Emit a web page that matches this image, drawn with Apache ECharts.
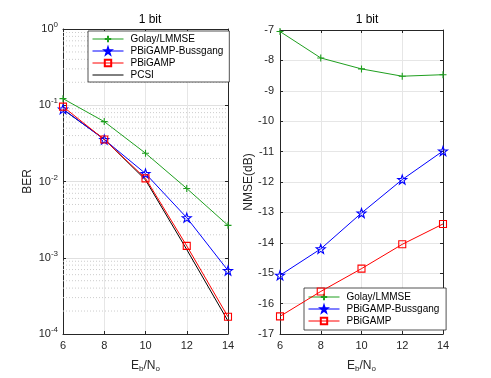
<!DOCTYPE html>
<html><head><meta charset="utf-8">
<script src="https://cdn.jsdelivr.net/npm/echarts@6/dist/echarts.min.js"></script>
<style>html,body{margin:0;padding:0;background:#fff}#c{width:491px;height:378px}</style>
</head><body><div id="c"></div>
<script>
const ebno = [6, 8, 10, 12, 14];
const berGolay = [0.122, 0.061, 0.0235, 0.0081, 0.00266];
const berBussgang = [0.089, 0.0355, 0.0127, 0.00335, 0.00068];
const berPBiGAMP = [0.096, 0.0355, 0.011, 0.00143, 0.000168];
const berPCSI = [0.088, 0.036, 0.0105, 0.00128, 0.000148];
const nmseGolay = [-7.05, -7.92, -8.28, -8.52, -8.47];
const nmseBussgang = [-15.07, -14.2, -13.02, -11.92, -10.98];
const nmsePBiGAMP = [-16.42, -15.6, -14.85, -14.05, -13.38];
const names = ['Golay/LMMSE', 'PBiGAMP-Bussgang', 'PBiGAMP', 'PCSI'];
const leftTitle = '1 bit', rightTitle = '1 bit';

const FONT = 'Liberation Sans';
const AX = '#262626';
const GREEN = '#1f9f1f', BLUE = '#0000ff', RED = '#ff0000', BLACK = '#000000';
const plus = 'path://M0,-10L0,10M-10,0L10,0';
const star = 'path://M0,-10L2.35,-3.24L9.51,-3.09L3.8,1.24L5.88,8.09L0,4L-5.88,8.09L-3.8,1.24L-9.51,-3.09L-2.35,-3.24Z';

const minorVals = [];
for (let e = -4; e < 0; e++) for (let k = 2; k <= 9; k++) minorVals.push(k * Math.pow(10, e));

const pair = (ys) => ebno.map((x, i) => [x, ys[i]]);

function mkSeries(name, ys, color, sym, size, xi, yi, extra) {
  const s = {
    name, type: 'line', xAxisIndex: xi, yAxisIndex: yi, data: pair(ys),
    symbol: sym || 'none', symbolSize: size || 0, showAllSymbol: true,
    lineStyle: {color, width: 1}, itemStyle: {color: 'rgba(0,0,0,0)', borderColor: color, borderWidth: 1.1},
    emphasis: {disabled: true}, animation: false, z: 5
  };
  return Object.assign(s, extra || {});
}
const minorSeries = minorVals.map(v => ({
  type: 'line', xAxisIndex: 0, yAxisIndex: 0, silent: true, symbol: 'none', z: 1,
  data: [[ebno[0], v], [ebno[ebno.length - 1], v]],
  lineStyle: {color: '#cccccc', type: [1, 2], width: 1}, emphasis: {disabled: true}, animation: false
}));

const grids = [
  {left: 63, right: 263, top: 29, bottom: 43},
  {left: 280, right: 48, top: 30, bottom: 43}
];
function xAx(gi, pos, labels) {
  return {
    type: 'value', gridIndex: gi, position: pos, min: 6, max: 14, interval: 2,
    axisLine: {show: true, onZero: false, lineStyle: {color: AX, width: 1}},
    axisTick: {show: true, inside: true, length: 3, lineStyle: {color: AX}},
    axisLabel: {show: labels, color: AX, fontFamily: FONT, fontSize: 11, margin: 6},
    splitLine: {show: labels, lineStyle: {color: '#e6e6e6', width: 1}},
    name: labels ? '{a|E}{s|b}{a|/N}{s|o}' : '', nameLocation: 'middle', nameGap: 24,
    nameTextStyle: {rich: {a: {fontFamily: FONT, fontSize: 12, color: AX}, s: {fontFamily: FONT, fontSize: 8, color: AX, padding: [7, 0, 0, 0]}}}
  };
}
const supFmt = (v) => '{b|10}{e|' + Math.round(Math.log10(v)) + '}';
const legendBase = {
  orient: 'vertical', itemGap: 2, itemWidth: 31, itemHeight: 8,
  backgroundColor: '#fff', borderColor: AX, borderWidth: 0.8, borderRadius: 0,
  lineStyle: {width: 1}, textStyle: {fontFamily: FONT, fontSize: 10, color: '#000', padding: [0, 0, 0, 2]}, selectedMode: false
};

const option = {
  animation: false,
  backgroundColor: '#fff',
  title: [
    {text: leftTitle, left: 145, top: 9, textAlign: 'center', textStyle: {fontFamily: FONT, fontSize: 12, fontWeight: 'normal', color: '#000'}},
    {text: rightTitle, left: 362, top: 9, textAlign: 'center', textStyle: {fontFamily: FONT, fontSize: 12, fontWeight: 'normal', color: '#000'}}
  ],
  grid: grids,
  xAxis: [xAx(0, 'bottom', true), xAx(0, 'top', false), xAx(1, 'bottom', true), xAx(1, 'top', false)],
  yAxis: [
    {type: 'log', gridIndex: 0, min: 1e-4, max: 1, logBase: 10, position: 'left',
     axisLine: {show: true, onZero: false, lineStyle: {color: AX}},
     axisTick: {show: true, inside: true, length: 3, lineStyle: {color: AX}},
     axisLabel: {color: AX, fontFamily: FONT, formatter: supFmt, margin: 5,
       rich: {b: {fontFamily: FONT, fontSize: 11, color: AX}, e: {fontFamily: FONT, fontSize: 8, color: AX, padding: [0, 0, 8, 0]}}},
     splitLine: {show: true, lineStyle: {color: '#e0e0e0'}},
     name: 'BER', nameLocation: 'middle', nameGap: 29, nameRotate: 90,
     nameTextStyle: {fontFamily: FONT, fontSize: 12, color: AX}},
    {type: 'log', gridIndex: 0, min: 1e-4, max: 1, logBase: 10, position: 'right',
     axisLine: {show: true, onZero: false, lineStyle: {color: AX}},
     axisTick: {show: true, inside: true, length: 3, lineStyle: {color: AX}},
     axisLabel: {show: false}, splitLine: {show: false}},
    {type: 'value', gridIndex: 1, min: -17, max: -7, interval: 1, position: 'left',
     axisLine: {show: true, onZero: false, lineStyle: {color: AX}},
     axisTick: {show: true, inside: true, length: 3, lineStyle: {color: AX}},
     axisLabel: {color: AX, fontFamily: FONT, fontSize: 11, margin: 6},
     splitLine: {show: true, lineStyle: {color: '#e6e6e6'}},
     name: 'NMSE(dB)', nameLocation: 'middle', nameGap: 19, nameRotate: 90,
     nameTextStyle: {fontFamily: FONT, fontSize: 12, color: AX}},
    {type: 'value', gridIndex: 1, min: -17, max: -7, interval: 1, position: 'right',
     axisLine: {show: true, onZero: false, lineStyle: {color: AX}},
     axisTick: {show: true, inside: true, length: 3, lineStyle: {color: AX}},
     axisLabel: {show: false}, splitLine: {show: false}}
  ],
  legend: [
    Object.assign({}, legendBase, {
      data: [names[0], names[1], names[2], {name: names[3], itemStyle: {opacity: 0}}],
      left: 88, top: 31, padding: [3, 6, 2, 4]}),
    Object.assign({}, legendBase, {
      data: [names[0] + ' ', names[1] + ' ', names[2] + ' '],
      left: 304, top: 288, padding: [4, 4, 4, 4]})
  ],
  series: minorSeries.concat([
    mkSeries(names[0], berGolay, GREEN, plus, 7, 0, 0),
    mkSeries(names[1], berBussgang, BLUE, star, 9, 0, 0),
    mkSeries(names[2], berPBiGAMP, RED, 'rect', 7, 0, 0),
    mkSeries(names[3], berPCSI, BLACK, 'none', 0, 0, 0, {z: 4}),
    mkSeries(names[0] + ' ', nmseGolay, GREEN, plus, 7, 2, 2),
    mkSeries(names[1] + ' ', nmseBussgang, BLUE, star, 9, 2, 2),
    mkSeries(names[2] + ' ', nmsePBiGAMP, RED, 'rect', 7, 2, 2)
  ])
};
const chart = echarts.init(document.getElementById('c'), null, {renderer: 'canvas'});
chart.setOption(option);
</script></body></html>
